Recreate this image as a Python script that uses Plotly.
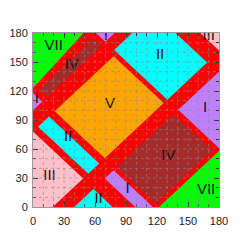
import plotly.graph_objects as go

# ---------------- data ----------------
axis_min, axis_max = 0, 180
major_ticks = [0, 30, 60, 90, 120, 150, 180]
grid_step = 10

# background (red) colour of the whole domain
background_color = "#FF0000"

# Regions described by bounds in u = y - x and v = x + y (None = unbounded)
region_key   = ["VII_br", "IV_tl", "I_left", "I_top", "V", "II_tr", "III_tr",
                "III_bl", "II_strip", "II_bottom", "I_strip", "IV_big", "I_right"]
region_color = ["#00FF00", "#A52A2A", "#BF80FF", "#BF80FF", "#FFA500", "#00FFFF", "#FFC0CB",
                "#FFC0CB", "#00FFFF", "#00FFFF", "#BF80FF", "#A52A2A", "#BF80FF"]
region_u_lo  = [None, 100, 100, 101, -19, -19, None, -19, -19, None, None, -115, None]
region_u_hi  = [-122, 116, None, 121, 78, 84, None, None, 78, -40, -40, -40, -40]
region_v_lo  = [None, 128, None, 241, 120, 241, 342, None, 88, None, 99, 122, 241]
region_v_hi  = [None, 232, 118, None, 234, 318, None, 78, 109, 77, 116, 232, None]

# top-left green region: its lower edge runs from the left axis to the top axis
green_tl_left_y = 123
green_tl_top_x = 49
green_tl_color = "#00FF00"

# region labels
label_text = ["VII", "IV", "I", "III", "II", "I", "V", "I", "II", "III", "IV", "II", "I", "VII"]
label_x    = [20, 37.5, 70.5, 170, 123, 3.8, 74.5, 166.5, 34, 16, 131, 63.5, 91.5, 167.5]
label_y    = [166, 146.5, 176.5, 176.5, 157.5, 111.5, 106.5, 102, 72, 32, 53, 8.5, 18.5, 17.5]


# ---------------- helpers ----------------
def clip(poly, a, b, c):
    """Keep the part of polygon with a*x + b*y <= c."""
    out = []
    n = len(poly)
    for i in range(n):
        p, q = poly[i], poly[(i + 1) % n]
        fp = a * p[0] + b * p[1] - c
        fq = a * q[0] + b * q[1] - c
        if fp <= 0:
            out.append(p)
        if (fp < 0 < fq) or (fq < 0 < fp):
            t = fp / (fp - fq)
            out.append((p[0] + t * (q[0] - p[0]), p[1] + t * (q[1] - p[1])))
    return out


def square():
    return [(axis_min, axis_min), (axis_max, axis_min), (axis_max, axis_max), (axis_min, axis_max)]


def region_polygon(ulo, uhi, vlo, vhi):
    poly = square()
    if ulo is not None:
        poly = clip(poly, 1, -1, -ulo)   # y - x >= ulo
    if uhi is not None:
        poly = clip(poly, -1, 1, uhi)    # y - x <= uhi
    if vlo is not None:
        poly = clip(poly, -1, -1, -vlo)  # x + y >= vlo
    if vhi is not None:
        poly = clip(poly, 1, 1, vhi)     # x + y <= vhi
    return poly


def fill_trace(poly, color):
    xs = [p[0] for p in poly] + [poly[0][0]]
    ys = [p[1] for p in poly] + [poly[0][1]]
    return go.Scatter(x=xs, y=ys, mode="lines", fill="toself", fillcolor=color,
                      line=dict(width=0, color=color), hoverinfo="skip", showlegend=False)


fig = go.Figure()

# red background domain
fig.add_trace(fill_trace(square(), background_color))

# top-left green region (line through two read points)
gpoly = square()
slope = (axis_max - green_tl_left_y) / (green_tl_top_x - axis_min)
gpoly = clip(gpoly, slope, -1, -green_tl_left_y)
fig.add_trace(fill_trace(gpoly, green_tl_color))

for k, col, ulo, uhi, vlo, vhi in zip(region_key, region_color, region_u_lo,
                                       region_u_hi, region_v_lo, region_v_hi):
    poly = region_polygon(ulo, uhi, vlo, vhi)
    if len(poly) >= 3:
        fig.add_trace(fill_trace(poly, col))

fig.add_trace(go.Scatter(x=label_x, y=label_y, mode="text", text=label_text,
                         textfont=dict(family="Arial, Liberation Sans, sans-serif", size=15, color="#111111"),
                         hoverinfo="skip", showlegend=False))

# dotted grid drawn above the coloured regions
grid_vals = list(range(axis_min + grid_step, axis_max, grid_step))
for g in grid_vals:
    fig.add_shape(type="line", x0=g, x1=g, y0=axis_min, y1=axis_max, xref="x", yref="y",
                  line=dict(color="rgba(140,140,140,0.6)", width=1, dash="dot"), layer="above")
    fig.add_shape(type="line", y0=g, y1=g, x0=axis_min, x1=axis_max, xref="x", yref="y",
                  line=dict(color="rgba(140,140,140,0.6)", width=1, dash="dot"), layer="above")

axis_common = dict(
    range=[axis_min, axis_max], tickvals=major_ticks, ticks="inside", ticklen=5,
    tickcolor="#333333", tickwidth=1, showline=True, linecolor="#999999", linewidth=1,
    mirror="ticks", showgrid=False, zeroline=False, layer="above traces", automargin=False,
    tickfont=dict(family="Arial, Liberation Sans, sans-serif", size=11, color="#222222"),
    minor=dict(dtick=grid_step, ticks="inside", ticklen=3, tickcolor="#333333", showgrid=False),
    fixedrange=True,
)

# the page body adds an 8 px offset, so the figure is 244 px and margins are shifted
fig.update_layout(
    width=244, height=244,
    margin=dict(l=25, r=33, t=25, b=45, autoexpand=False),
    paper_bgcolor="white", plot_bgcolor="white",
    xaxis=dict(**axis_common, ticklabelstandoff=4),
    yaxis=dict(**axis_common, ticklabelstandoff=2),
    showlegend=False,
)

fig.write_html("out.html")
